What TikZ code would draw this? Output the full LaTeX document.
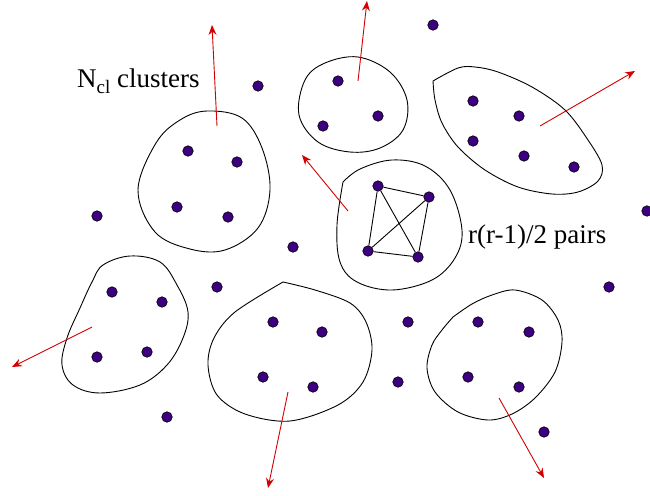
\documentclass[tikz,border=0pt]{standalone}
\usepackage{fontspec}
\setmainfont{Liberation Serif}
\usetikzlibrary{arrows.meta}
\definecolor{dotfill}{RGB}{60,0,128}
\definecolor{arrred}{RGB}{210,0,0}
\begin{document}
\begin{tikzpicture}[x=1pt,y=-1pt,
  pt/.style={circle,draw=black,line width=0.6pt,fill=dotfill,inner sep=0pt,minimum size=10.5pt},
  hull/.style={draw=black,line width=0.9pt},
  move/.style={draw=arrred,line width=0.9pt,-{Stealth[length=10pt,width=8pt,inset=3.5pt]}},
  pairline/.style={draw=black,line width=0.9pt},
  lbl/.style={font=\fontsize{27}{32}\selectfont,inner sep=0pt,anchor=base west}]
\useasboundingbox (0,0) rectangle (650,495);

% cluster outlines
\draw[hull] plot[smooth cycle,tension=0.6] coordinates {(207,111) (242,118) (262,148) (270,190) (258,228) (225,250) (190,249) (155,232) (138,190) (156,143) (180,120)};
\draw[hull] plot[smooth cycle,tension=0.6] coordinates {(358,57) (390,72) (407,100) (403,130) (380,148) (350,152) (318,142) (299,115) (305,80) (325,63)};
\draw[hull] plot[smooth,tension=0.55] coordinates {(433,81) (458,68) (475,67) (498,72) (532,87) (565,110) (588,140) (602,165) (598,181) (578,192) (552,194) (518,187) (485,170) (458,147) (442,123) (435,100) (433,81)};
\draw[hull] plot[smooth,tension=0.6] coordinates {(343,182) (360,169) (392,160) (425,166) (450,190) (462,230) (455,258) (432,280) (392,290) (357,282) (340,262) (337,225) (343,182)};
\draw[hull] plot[smooth cycle,tension=0.6] coordinates {(130,256) (160,262) (177,285) (188,312) (183,338) (167,365) (140,385) (100,393) (73,385) (62,365) (67,338) (80,308) (92,282) (103,265)};
\draw[hull] plot[smooth,tension=0.55] coordinates {(283,282) (315,290) (350,303) (366,322) (372,350) (363,382) (338,405) (290,421) (245,414) (217,395) (208,365) (214,338) (235,312) (283,282)};
\draw[hull] plot[smooth,tension=0.55] coordinates {(453,317) (472,304) (492,295) (515,290) (542,300) (558,320) (562,342) (555,372) (535,398) (512,414) (488,420) (458,412) (435,392) (427,368) (432,345) (442,330) (453,317)};

% arrows
\coordinate (s1) at (217,126); \coordinate (e1) at (212,25);
\coordinate (s2) at (358,81);  \coordinate (e2) at (367,1);
\coordinate (s3) at (540,126); \coordinate (e3) at (635,71);
\coordinate (s4) at (348,211); \coordinate (e4) at (302,155);
\coordinate (s5) at (92,327);  \coordinate (e5) at (12,367);
\coordinate (s6) at (288,392); \coordinate (e6) at (268,488);
\coordinate (s7) at (499,398); \coordinate (e7) at (544,478);
\foreach \i in {1,...,7} {\draw[move] (s\i) -- (e\i);}

% free points
\node[pt] (f1) at (258,86) {};
\node[pt] (f2) at (433,25) {};
\node[pt] (f3) at (97,216) {};
\node[pt] (f4) at (293,247) {};
\node[pt] (f5) at (217,287) {};
\node[pt] (f6) at (408,322) {};
\node[pt] (f7) at (398,382) {};
\node[pt] (f8) at (167,417) {};
\node[pt] (f9) at (544,432) {};
\node[pt] (f10) at (609,287) {};
\node[pt] (f11) at (647,211) {};

% cluster A (top left)
\node[pt] (a1) at (188,151) {};
\node[pt] (a2) at (237,162) {};
\node[pt] (a3) at (177,207) {};
\node[pt] (a4) at (228,217) {};
% cluster B (top middle)
\node[pt] (b1) at (338,81) {};
\node[pt] (b2) at (378,116) {};
\node[pt] (b3) at (323,126) {};
% cluster C (top right)
\node[pt] (c1) at (473,101) {};
\node[pt] (c2) at (519,116) {};
\node[pt] (c3) at (473,141) {};
\node[pt] (c4) at (524,156) {};
\node[pt] (c5) at (574,167) {};
% cluster D (central, pairs)
\node[pt] (d1) at (378,186) {};
\node[pt] (d2) at (429,197) {};
\node[pt] (d3) at (368,251) {};
\node[pt] (d4) at (418,257) {};
\draw[pairline] (d1) -- (d2);
\draw[pairline] (d1) -- (d3);
\draw[pairline] (d1) -- (d4);
\draw[pairline] (d2) -- (d3);
\draw[pairline] (d2) -- (d4);
\draw[pairline] (d3) -- (d4);
% cluster E (bottom left)
\node[pt] (e1n) at (112,292) {};
\node[pt] (e2n) at (162,302) {};
\node[pt] (e3n) at (97,357) {};
\node[pt] (e4n) at (147,352) {};
% cluster F (bottom middle)
\node[pt] (g1) at (273,322) {};
\node[pt] (g2) at (322,332) {};
\node[pt] (g3) at (263,377) {};
\node[pt] (g4) at (313,387) {};
% cluster H (bottom right)
\node[pt] (h1) at (478,322) {};
\node[pt] (h2) at (529,332) {};
\node[pt] (h3) at (468,377) {};
\node[pt] (h4) at (519,387) {};

% labels
\node[lbl] (ncl) at (77,88) {N\raisebox{-0.22em}{\fontsize{19}{19}\selectfont cl} clusters};
\node[lbl] (pairs) at (468,243) {r(r-1)/2 pairs};
\end{tikzpicture}
\end{document}
